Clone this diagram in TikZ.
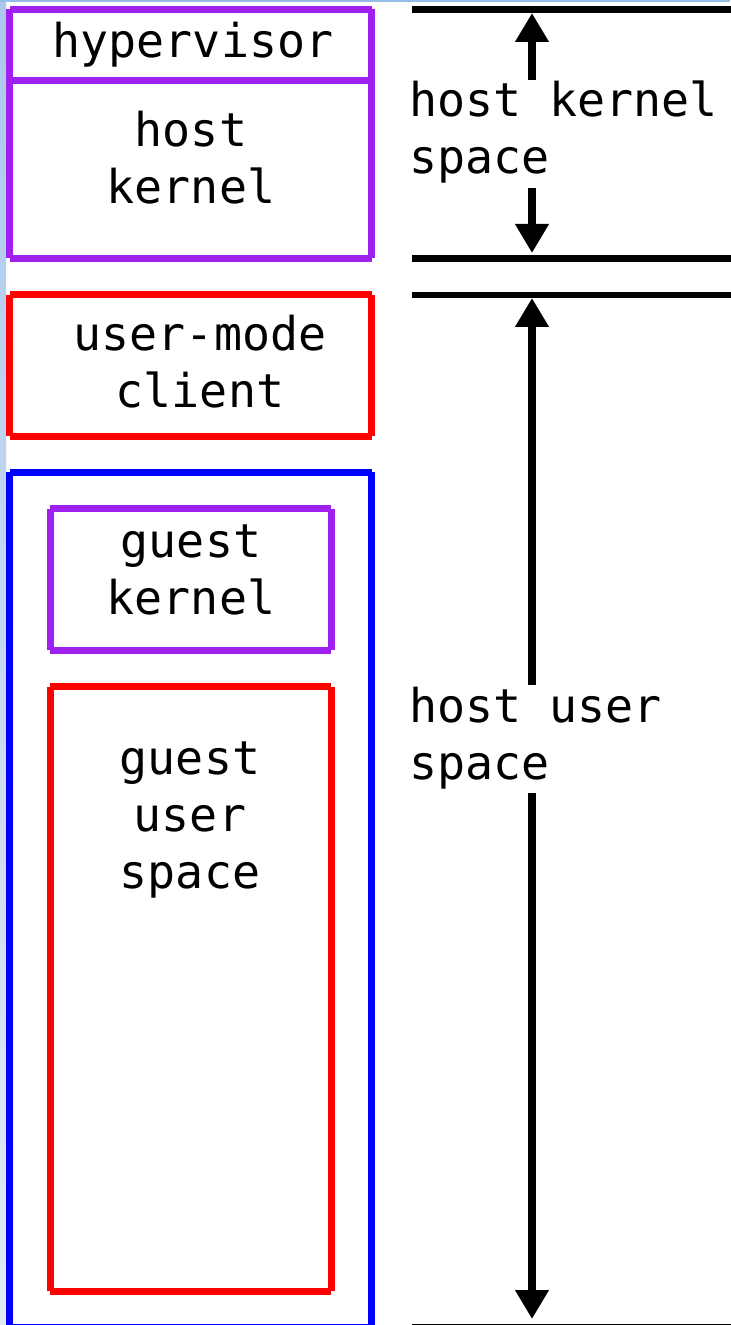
\documentclass[tikz,border=0pt]{standalone}
\usepackage{fontspec}
\setmonofont{DejaVu Sans Mono}
\usetikzlibrary{arrows.meta}

\definecolor{vpurple}{RGB}{160,32,240}
\definecolor{vred}{RGB}{255,0,0}
\definecolor{vblue}{RGB}{0,0,255}
\definecolor{frametop}{RGB}{150,188,232}
\definecolor{frameside}{RGB}{172,200,236}
\definecolor{framefade}{RGB}{226,233,245}

% each side is its own stroke with butt ends, so the corners stay open
\newcommand\boxedges[2]{%
  \draw[#2] (#1.north west) -- (#1.north east)
            (#1.north east) -- (#1.south east)
            (#1.south east) -- (#1.south west)
            (#1.south west) -- (#1.north west);}

\tikzset{
  x=0.5pt, y=-0.5pt,
  area/.style={inner sep=0pt, outer sep=0pt, draw=none},
  edge/.style={line width=3.5pt, line cap=butt},
  % multi-line labels: 'base' is the baseline of the last line
  lbl/.style={font=\ttfamily\fontsize{23.3}{28.5}\selectfont, inner sep=0pt,
              align=center, anchor=base},
  rlbl/.style={lbl, align=left, anchor=base west},
  rule/.style={line width=3.3pt},
  span/.style={line width=3.75pt, -{Triangle[width=16pt,length=14.5pt]}},
}

\begin{document}
\begin{tikzpicture}
\useasboundingbox (0,0) rectangle (730,1325);
\fill[white] (0,0) rectangle (730,1325);

% window frame edges
\shade[top color=frameside, bottom color=framefade] (0,0) rectangle (6,1325);
\fill[frametop] (0,0) rectangle (730,2);

% ---- left column: the stack of components ----
\node[area, minimum width=181pt, minimum height=35.5pt]  (hyp)   at (190.5,45)     {};
\node[area, minimum width=181pt, minimum height=89pt]    (hostk) at (190.5,169.5)  {};
\node[area, minimum width=181pt, minimum height=70.75pt] (umc)   at (190.5,365.75) {};
\node[area, minimum width=181pt, minimum height=427.25pt](vm)    at (190.5,899.75) {};
\node[area, minimum width=140.5pt, minimum height=70.75pt] (gk)  at (190.5,579.25) {};
\node[area, minimum width=140.5pt, minimum height=302.25pt](gus) at (190.5,988.75) {};

\boxedges{hyp}{edge, vpurple}
\boxedges{hostk}{edge, vpurple}
\boxedges{umc}{edge, vred}
\boxedges{vm}{edge, vblue}
\boxedges{gk}{edge, vpurple}
\boxedges{gus}{edge, vred}

\node[lbl] (thyp) at (193,58)  {hypervisor};
\node[lbl] (thk)  at (191,204) {host\\kernel};
\node[lbl] (tumc) at (200,408) {user-mode\\client};
\node[lbl] (tgk)  at (191,614) {guest\\kernel};
\node[lbl] (tgus) at (190,888) {guest\\user\\space};

% ---- right column: address-space ranges ----
\coordinate (r0a) at (412,9.5);    \coordinate (r0b) at (735,9.5);
\coordinate (r1a) at (412,258.5);  \coordinate (r1b) at (735,258.5);
\coordinate (r2a) at (412,295);    \coordinate (r2b) at (735,295);
\coordinate (r3a) at (412,1327.5); \coordinate (r3b) at (735,1327.5);
\draw[rule] (r0a) -- (r0b);
\draw[rule] (r1a) -- (r1b);
\draw[rule] (r2a) -- (r2b);
\draw[rule] (r3a) -- (r3b);

\node[rlbl] (hks) at (409,174) {host kernel\\space};
\node[rlbl] (hus) at (409,779) {host user\\space};

\coordinate (k1) at (532,80);   \coordinate (k1t) at (532,13);
\coordinate (k2) at (532,188);  \coordinate (k2t) at (532,253);
\coordinate (u1) at (532,685);  \coordinate (u1t) at (532,298);
\coordinate (u2) at (532,793);  \coordinate (u2t) at (532,1319);
\draw[span] (k1) -- (k1t);
\draw[span] (k2) -- (k2t);
\draw[span] (u1) -- (u1t);
\draw[span] (u2) -- (u2t);
\end{tikzpicture}
\end{document}
